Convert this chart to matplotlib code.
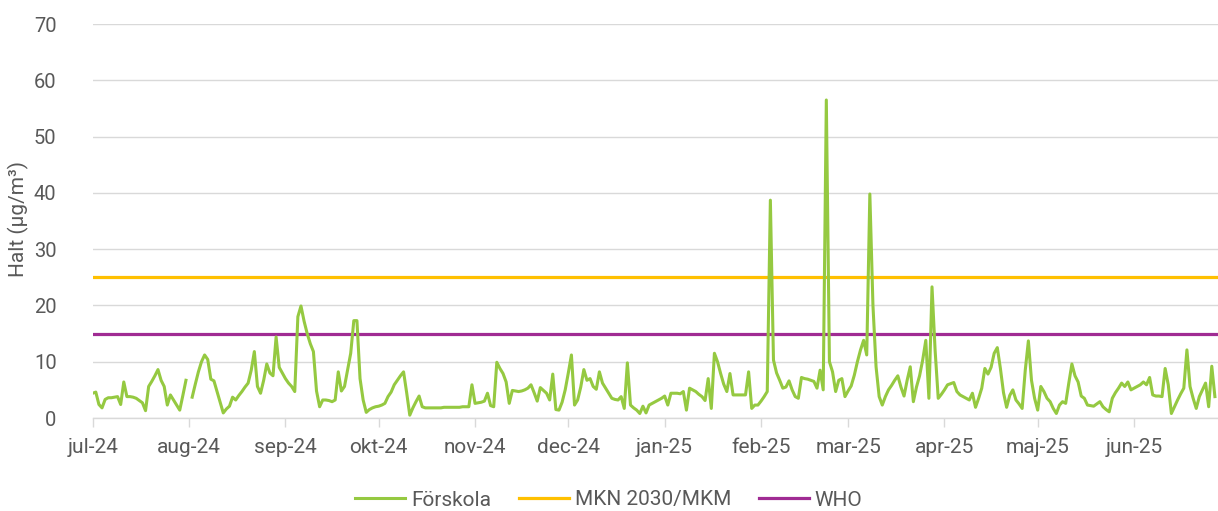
import numpy as np
import pandas as pd
import matplotlib
matplotlib.use("Agg")
import matplotlib.pyplot as plt

plt.rcParams['font.family'] = ['Roboto', 'DejaVu Sans']

# Daily PM values (µg/m³), one list per month
jul24 = [4.4, 4.6, 2.4, 1.8, 3.3, 3.6, 3.6, 3.7, 3.8, 2.4, 6.4, 3.8, 3.8, 3.7, 3.5, 3.1,
         2.7, 1.3, 5.6, 6.5, 7.5, 8.6, 6.7, 5.6, 2.3, 4.1, 3.2, 2.3, 1.4, 4.0, 6.7]
aug24 = [np.nan, 3.7, 6.0, 8.2, 10.0, 11.2, 10.4, 6.9, 6.6, 4.7, 2.8, 0.9, 1.6, 2.1, 3.7, 3.2,
         4.0, 4.7, 5.5, 6.2, 8.5, 11.8, 5.6, 4.4, 6.7, 9.6, 8.0, 7.5, 14.4, 9.0, 8.0]
sep24 = [7.0, 6.2, 5.6, 4.7, 18.0, 19.9, 17.2, 15.0, 13.2, 11.8, 4.8, 2.0, 3.2, 3.2, 3.1,
         2.9, 3.2, 8.2, 4.8, 5.6, 8.5, 11.5, 17.3, 17.3, 7.0, 3.2, 1.0, 1.5, 1.8, 2.0]
okt24 = [2.1, 2.3, 2.6, 3.8, 4.6, 5.9, 6.7, 7.5, 8.2, 4.5, 0.5, 1.8, 2.9, 3.9, 2.0, 1.8,
         1.8, 1.8, 1.8, 1.8, 1.8, 1.9, 1.9, 1.9, 1.9, 1.9, 1.9, 2.0, 2.0, 2.0, 5.9]
nov24 = [2.6, 2.7, 2.8, 3.0, 4.4, 2.2, 2.0, 9.9, 8.8, 7.9, 6.4, 2.6, 4.9, 4.8, 4.7,
         4.8, 5.0, 5.3, 5.9, 4.5, 3.0, 5.4, 4.9, 4.4, 3.2, 7.8, 1.5, 1.4, 2.8, 5.0]
dec24 = [8.0, 11.2, 2.3, 3.2, 5.5, 8.6, 6.7, 7.0, 5.6, 5.1, 8.2, 6.2, 5.3, 4.4, 3.5, 3.3,
         3.2, 3.8, 1.7, 9.8, 2.3, 1.8, 1.4, 0.8, 2.1, 0.9, 2.3, 2.6, 2.9, 3.2, 3.5]
jan25 = [3.9, 2.3, 4.4, 4.4, 4.4, 4.3, 4.7, 1.4, 5.3, 5.0, 4.7, 4.2, 3.8, 3.1, 7.0, 1.7,
         11.5, 10.0, 7.9, 6.0, 4.7, 7.9, 4.1, 4.1, 4.1, 4.1, 4.1, 8.2, 1.7, 2.3, 2.3]
feb25 = [3.0, 3.8, 4.7, 38.7, 10.3, 8.0, 6.7, 5.3, 5.5, 6.6, 5.0, 3.8, 3.5, 7.2,
         7.0, 6.9, 6.7, 6.5, 5.3, 8.5, 5.0, 56.5, 10.0, 8.2, 4.7, 6.7, 7.0, 3.8]
mar25 = [4.8, 5.7, 7.6, 10.0, 12.1, 13.8, 11.2, 39.8, 20.0, 9.1, 3.8, 2.3, 3.8, 5.0, 5.8,
         6.7, 7.5, 5.5, 3.9, 6.7, 9.1, 2.9, 5.5, 7.5, 10.3, 13.8, 3.5, 23.3, 12.0, 3.5, 4.2]
apr25 = [5.0, 5.9, 6.1, 6.3, 4.7, 4.1, 3.8, 3.5, 3.2, 4.4, 1.9, 3.5, 5.3, 8.8, 7.8,
         9.0, 11.5, 12.5, 8.8, 4.5, 1.9, 4.0, 5.0, 3.2, 2.5, 1.7, 8.5, 13.7, 6.7, 3.5]
maj25 = [1.4, 5.6, 4.7, 3.5, 2.9, 1.7, 0.8, 2.3, 2.9, 2.6, 6.2, 9.6, 7.5, 6.4, 3.9, 3.5,
         2.3, 2.2, 2.1, 2.5, 2.9, 2.0, 1.5, 1.1, 3.5, 4.5, 5.3, 6.2, 5.6, 6.4, 5.0]
jun25 = [5.3, 5.6, 5.9, 6.4, 5.9, 7.2, 4.1, 3.9, 3.9, 3.8, 8.8, 5.9, 0.8, 2.0, 3.2,
         4.3, 5.3, 12.1, 5.6, 3.5, 1.7, 3.8, 5.0, 6.2, 2.0, 9.2, 3.8]

forskola = jul24 + aug24 + sep24 + okt24 + nov24 + dec24 + jan25 + feb25 + mar25 + apr25 + maj25 + jun25
dates = pd.date_range("2024-07-01", periods=len(forskola), freq="D")

mkn_level = 25
who_level = 15

month_starts = pd.date_range("2024-07-01", "2025-06-01", freq="MS")
month_labels = ["jul-24", "aug-24", "sep-24", "okt-24", "nov-24", "dec-24",
                "jan-25", "feb-25", "mar-25", "apr-25", "maj-25", "jun-25"]

green = "#95C941"
yellow = "#FFC000"
purple = "#A02B93"
grid = "#D9D9D9"
text = "#595959"

W, H = 1218, 511
fig = plt.figure(figsize=(W / 100, H / 100), dpi=100)
ax = fig.add_axes([92.7 / W, (H - 418) / H, (W - 92.7) / W, (418 - 24) / H])

ax.plot(dates, forskola, color=green, lw=2.2, label="Förskola", solid_joinstyle="round", zorder=3)
ax.axhline(mkn_level, color=yellow, lw=2.3, label="MKN 2030/MKM", zorder=2)
ax.axhline(who_level, color=purple, lw=2.3, label="WHO", zorder=2)

xmin = pd.Timestamp("2024-07-01")
xmax = xmin + pd.Timedelta(days=362)
ax.set_xlim(xmin, xmax)
ax.set_ylim(0, 70)
ax.set_yticks(range(0, 71, 10))
ax.yaxis.grid(True, color=grid, lw=1.0)
ax.set_axisbelow(True)

ax.set_xticks(month_starts)
ax.set_xticklabels(month_labels)

for s in ["top", "right", "left"]:
    ax.spines[s].set_visible(False)
ax.spines["bottom"].set_color(grid)
ax.spines["bottom"].set_linewidth(1.0)

fs = 15
ax.tick_params(axis="y", length=0, pad=26, labelsize=14.5, labelcolor=text)
ax.tick_params(axis="x", length=6.5, width=1.0, color=grid, pad=8, labelsize=fs, labelcolor=text)

fig.text(18 / W, 1 - 219 / H, "Halt (µg/m³)", rotation=90, ha="center", va="center",
         fontsize=fs, color=text)

fig.legend(loc="center", bbox_to_anchor=(0.5, 1 - 500 / H), ncol=3, frameon=False,
           fontsize=fs, handlelength=2.4, columnspacing=1.3, handletextpad=0.3,
           labelcolor=text)

fig.savefig("out.png", dpi=100)
